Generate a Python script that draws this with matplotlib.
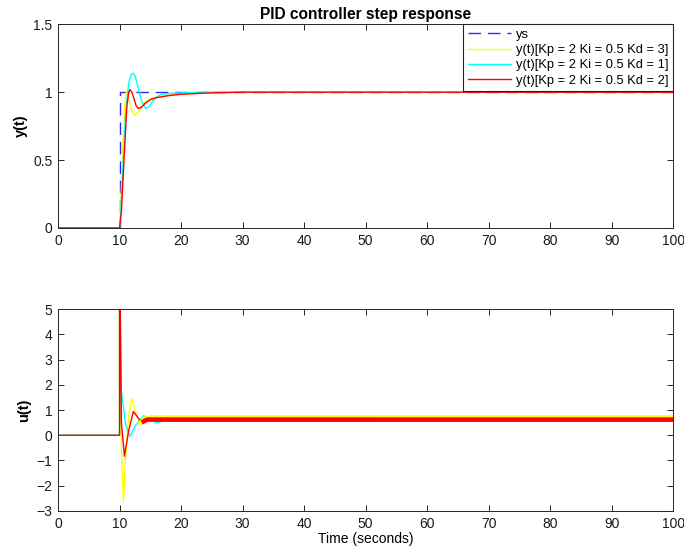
import numpy as np
import matplotlib.pyplot as plt

plt.rcParams['font.family'] = ['Liberation Sans', 'DejaVu Sans']

# valores leidos de la grafica
# referencia (escalon en t = 10)
t_ys = [0, 10, 10, 100]
ys = [0, 0, 1, 1]

# salida y(t) para cada Kd
t_y3 = [0, 10, 10.2, 10.46, 10.8, 11.0, 11.17, 11.4, 11.7, 12.0, 12.5, 13.0, 13.5, 14, 15, 16, 18, 20, 25, 30, 100]
y_kd3 = [0, 0, 0.15, 0.5, 0.88, 0.98, 1.01, 0.98, 0.91, 0.86, 0.83, 0.85, 0.89, 0.92, 0.95, 0.96, 0.975, 0.985, 0.997, 1, 1]

t_y1 = [0, 10, 10.2, 10.6, 11.0, 11.5, 11.9, 12.25, 12.6, 13, 13.6, 14.25, 14.8, 15.4, 16.0, 16.6, 18, 20, 25, 100]
y_kd1 = [0, 0, 0.1, 0.5, 0.85, 1.07, 1.13, 1.14, 1.11, 1.04, 0.93, 0.88, 0.895, 0.935, 0.965, 0.98, 0.99, 0.995, 1, 1]

t_y2 = [0, 10, 10.3, 10.73, 11.2, 11.5, 11.7, 12.0, 12.3, 12.7, 13.06, 13.6, 14.2, 15, 16, 18, 20, 25, 30, 100]
y_kd2 = [0, 0, 0.12, 0.5, 0.9, 1.0, 1.02, 1.0, 0.96, 0.9, 0.88, 0.89, 0.92, 0.945, 0.96, 0.975, 0.985, 0.995, 1, 1]

# senal de control u(t)
t_u3 = [0, 10, 10, 10.3, 10.62, 11.0, 11.5, 11.98, 12.5, 13.3, 14, 15, 100]
u_kd3 = [0, 0, 8, -0.5, -2.64, -0.8, 0.8, 1.47, 1.0, 0.44, 0.65, 0.7, 0.7]

t_u1 = [0, 10, 10, 10.25, 11.0, 11.7, 12.5, 13.9, 15, 16, 17, 100]
u_kd1 = [0, 0, 8, 1.85, 0.4, -0.05, 0.35, 0.78, 0.6, 0.5, 0.55, 0.57]

t_u2 = [0, 10, 10, 10.3, 10.8, 11.5, 12.25, 13.0, 13.6, 14.5, 100]
u_kd2 = [0, 0, 8, 0.5, -0.83, 0.2, 0.94, 0.7, 0.51, 0.62, 0.62]

labels = ['ys',
          'y(t)[Kp = 2 Ki = 0.5 Kd = 3]',
          'y(t)[Kp = 2 Ki = 0.5 Kd = 1]',
          'y(t)[Kp = 2 Ki = 0.5 Kd = 2]']

c_ys, c3, c1, c2 = '#2a2aff', '#ffff00', '#00ffff', '#ff0000'

fig = plt.figure(figsize=(6.84, 5.57), dpi=100)
ax1 = fig.add_axes([0.0848, 0.5907, 0.8995, 0.3657])
ax2 = fig.add_axes([0.0848, 0.0826, 0.8995, 0.3626])

# grafica superior: y(t)
ax1.plot(t_ys, ys, color=c_ys, lw=1.0, dashes=(9, 5), label=labels[0])
ax1.plot(t_y3, y_kd3, color=c3, lw=1.0, label=labels[1])
ax1.plot(t_y1, y_kd1, color=c1, lw=1.0, label=labels[2])
ax1.plot(t_y2, y_kd2, color=c2, lw=1.0, label=labels[3])
ax1.set_xlim(0, 100)
ax1.set_ylim(0, 1.5)
ax1.set_yticks([0, 0.5, 1, 1.5])
ax1.set_yticklabels(['0', '0.5', '1', '1.5'])
ax1.set_ylabel('y(t)', fontsize=10.5, fontweight='bold')
ax1.set_title('PID controller step response', fontsize=11.2, fontweight='bold', pad=4)
leg = ax1.legend(loc='upper right', borderaxespad=0, fontsize=9.3, handlelength=3.35,
                 handletextpad=0.4, labelspacing=0.25, borderpad=0.35,
                 fancybox=False, framealpha=1)
leg.get_frame().set_edgecolor('#262626')
leg.get_frame().set_linewidth(0.8)

# grafica inferior: u(t), la parte estable se dibuja gruesa (oscila rapido)
ax2.plot(t_u3, u_kd3, color=c3, lw=1.0)
ax2.plot(t_u1, u_kd1, color=c1, lw=1.0)
ax2.plot(t_u2, u_kd2, color=c2, lw=1.0)
k3 = np.array(t_u3) >= 13.3
k2 = np.array(t_u2) >= 13.6
ax2.plot(np.array(t_u3)[k3], np.array(u_kd3)[k3], color=c3, lw=3.3, solid_capstyle='butt')
ax2.plot(np.array(t_u2)[k2], np.array(u_kd2)[k2], color=c2, lw=3.3, solid_capstyle='butt')
ax2.set_xlim(0, 100)
ax2.set_ylim(-3, 5)
ax2.set_yticks(range(-3, 6))
ax2.set_ylabel('u(t)', fontsize=10.5, fontweight='bold')
ax2.set_xlabel('Time (seconds)', fontsize=10, labelpad=1)

for ax in (ax1, ax2):
    ax.set_xticks(range(0, 101, 10))
    ax.tick_params(direction='in', top=True, right=True, length=4.5, width=0.7,
                   labelsize=10, colors='#262626', labelcolor='#1a1a1a', pad=4)
    for s in ax.spines.values():
        s.set_color('#262626')
        s.set_linewidth(0.7)

fig.savefig('out.png', dpi=100)
